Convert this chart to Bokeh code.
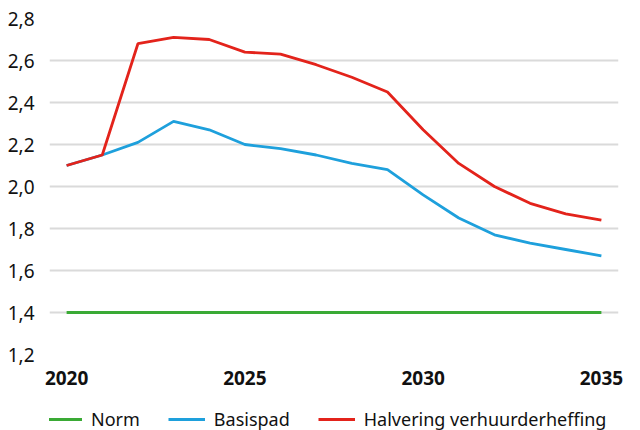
from bokeh.plotting import figure
from bokeh.layouts import column
from bokeh.models import FixedTicker, CustomJSTickFormatter, Legend, LegendItem, Range1d
from bokeh.embed import file_html
from bokeh.resources import INLINE

years = list(range(2020, 2036))
norm = [1.4] * 16
basispad = [2.10, 2.15, 2.21, 2.31, 2.27, 2.20, 2.18, 2.15, 2.11, 2.08, 1.96, 1.85, 1.77, 1.73, 1.70, 1.67]
halvering = [2.10, 2.15, 2.68, 2.71, 2.70, 2.64, 2.63, 2.58, 2.52, 2.45, 2.27, 2.11, 2.00, 1.92, 1.87, 1.84]
y_ticks = [1.2, 1.4, 1.6, 1.8, 2.0, 2.2, 2.4, 2.6, 2.8]
x_ticks = [2020, 2025, 2030, 2035]
labels = ["Norm", "Basispad", "Halvering verhuurderheffing"]
colors = ["#3aaa35", "#1ea0dc", "#e3231b"]

FONT = "Noto Sans"

p = figure(width=640, height=390, output_backend="svg", toolbar_location=None,
           x_range=Range1d(2019.52, 2035.48), y_range=Range1d(1.2, 2.8))
p.min_border_left = 49
p.min_border_right = 22
p.min_border_top = 18
p.min_border_bottom = 36
p.outline_line_color = None
p.background_fill_color = "white"
p.border_fill_color = "white"

p.xgrid.grid_line_color = None
p.ygrid.grid_line_color = "#dadada"
p.ygrid.grid_line_width = 2

p.yaxis.ticker = FixedTicker(ticks=y_ticks)
p.yaxis.formatter = CustomJSTickFormatter(code="return tick.toFixed(1).replace('.', ',');")
p.xaxis.ticker = FixedTicker(ticks=x_ticks)
for ax in (p.xaxis, p.yaxis):
    ax.axis_line_color = None
    ax.major_tick_line_color = None
    ax.minor_tick_line_color = None
    ax.major_label_text_font = FONT
    ax.major_label_text_font_size = "19px"
    ax.major_label_text_color = "#111111"
p.xaxis.major_label_text_font_style = "bold"
p.xaxis.major_label_standoff = 10
p.yaxis.major_label_standoff = 9

series = [norm, basispad, halvering]
for vals, c in zip(series, colors):
    p.line(years, vals, line_color=c, line_width=2.8)

# legend strip below the chart (proxy lines fall outside its ranges, only legend shows)
lf = figure(width=640, height=40, output_backend="svg", toolbar_location=None,
            x_range=Range1d(0, 1), y_range=Range1d(0, 1),
            x_axis_location=None, y_axis_location=None)
lf.min_border_left = 0
lf.min_border_right = 0
lf.min_border_top = 0
lf.min_border_bottom = 0
lf.outline_line_color = None
lf.xgrid.grid_line_color = None
lf.ygrid.grid_line_color = None
leg_renderers = [lf.line(years, vals, line_color=c, line_width=2.8)
                 for vals, c in zip(series, colors)]

legend = Legend(items=[LegendItem(label=l, renderers=[r]) for l, r in zip(labels, leg_renderers)],
                orientation="horizontal", location=(-4, -1))
legend.label_text_font = FONT
legend.label_text_font_size = "18px"
legend.label_text_color = "#111111"
legend.glyph_width = 37
legend.glyph_height = 20
legend.label_height = 20
legend.label_standoff = 9
legend.spacing = 28
legend.border_line_color = None
legend.background_fill_alpha = 0
legend.padding = 0
legend.margin = 0
lf.add_layout(legend, "center")

layout = column(p, lf, spacing=0)
open("out.html", "w").write(file_html(layout, INLINE))
